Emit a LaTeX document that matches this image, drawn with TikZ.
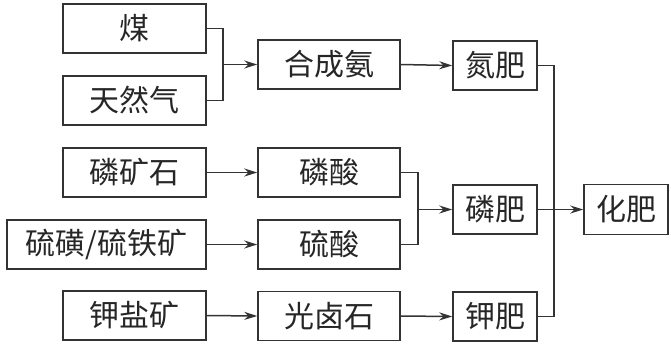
\documentclass[tikz,border=0pt]{standalone}
\usepackage{fontspec}
\newfontfamily\cjk{Noto Sans CJK SC}
\usetikzlibrary{arrows.meta}
\begin{document}
\begin{tikzpicture}[x=1pt,y=-1pt,
  box/.style={draw=black!80,line width=1.5pt,inner sep=0pt,minimum height=49pt,
    font=\cjk\fontsize{30}{30}\selectfont,text=black!85},
  wa/.style={box,minimum width=143pt},
  wb/.style={box,minimum width=84pt},
  conn/.style={draw=black!80,line width=1.5pt},
  arr/.style={conn,-{Stealth[length=13pt,width=8pt]}}]
\useasboundingbox (0,0) rectangle (671,346);
\node[wa] (mei) at (134.5,28.5) {煤};
\node[wa] (trq) at (134.5,100.5) {天然气};
\node[wa] (lks) at (134.5,172.5) {磷矿石};
\node[box,minimum width=199pt] (lh) at (106.5,244.5) {硫磺/硫铁矿};
\node[wa] (jyk) at (134.5,315.5) {钾盐矿};
\node[box,minimum width=142pt] (hca) at (329,64.5) {合成氨};
\node[box,minimum width=142pt] (lsa) at (329,172.5) {磷酸};
\node[box,minimum width=142pt] (lsu) at (329,244.5) {硫酸};
\node[box,minimum width=142pt] (gls) at (329,316) {光卤石};
\node[wb] (df) at (495,65.5) {氮肥};
\node[wb] (lf) at (495,209.5) {磷肥};
\node[wb] (jf) at (495,316.5) {钾肥};
\node[wb,minimum height=50pt] (hf) at (626,209.5) {化肥};
\coordinate (j1) at (223,64.5);
\coordinate (j2) at (418,209.5);
\coordinate (j3) at (554,209.5);
\draw[conn] (mei.east) -| (j1);
\draw[conn] (trq.east) -| (j1);
\draw[arr] (j1) -- (hca.west);
\draw[arr] (hca.east) -- (df.west);
\draw[arr] (lks.east) -- (lsa.west);
\draw[arr] (lh.east) -- (lsu.west);
\draw[arr] (jyk.east) -- (gls.west);
\draw[arr] (gls.east) -- (jf.west);
\draw[conn] (lsa.east) -| (j2);
\draw[conn] (lsu.east) -| (j2);
\draw[arr] (j2) -- (lf.west);
\draw[conn] (df.east) -| (j3);
\draw[conn] (jf.east) -| (j3);
\draw[arr] (lf.east) -- (hf.west);
\end{tikzpicture}
\end{document}
